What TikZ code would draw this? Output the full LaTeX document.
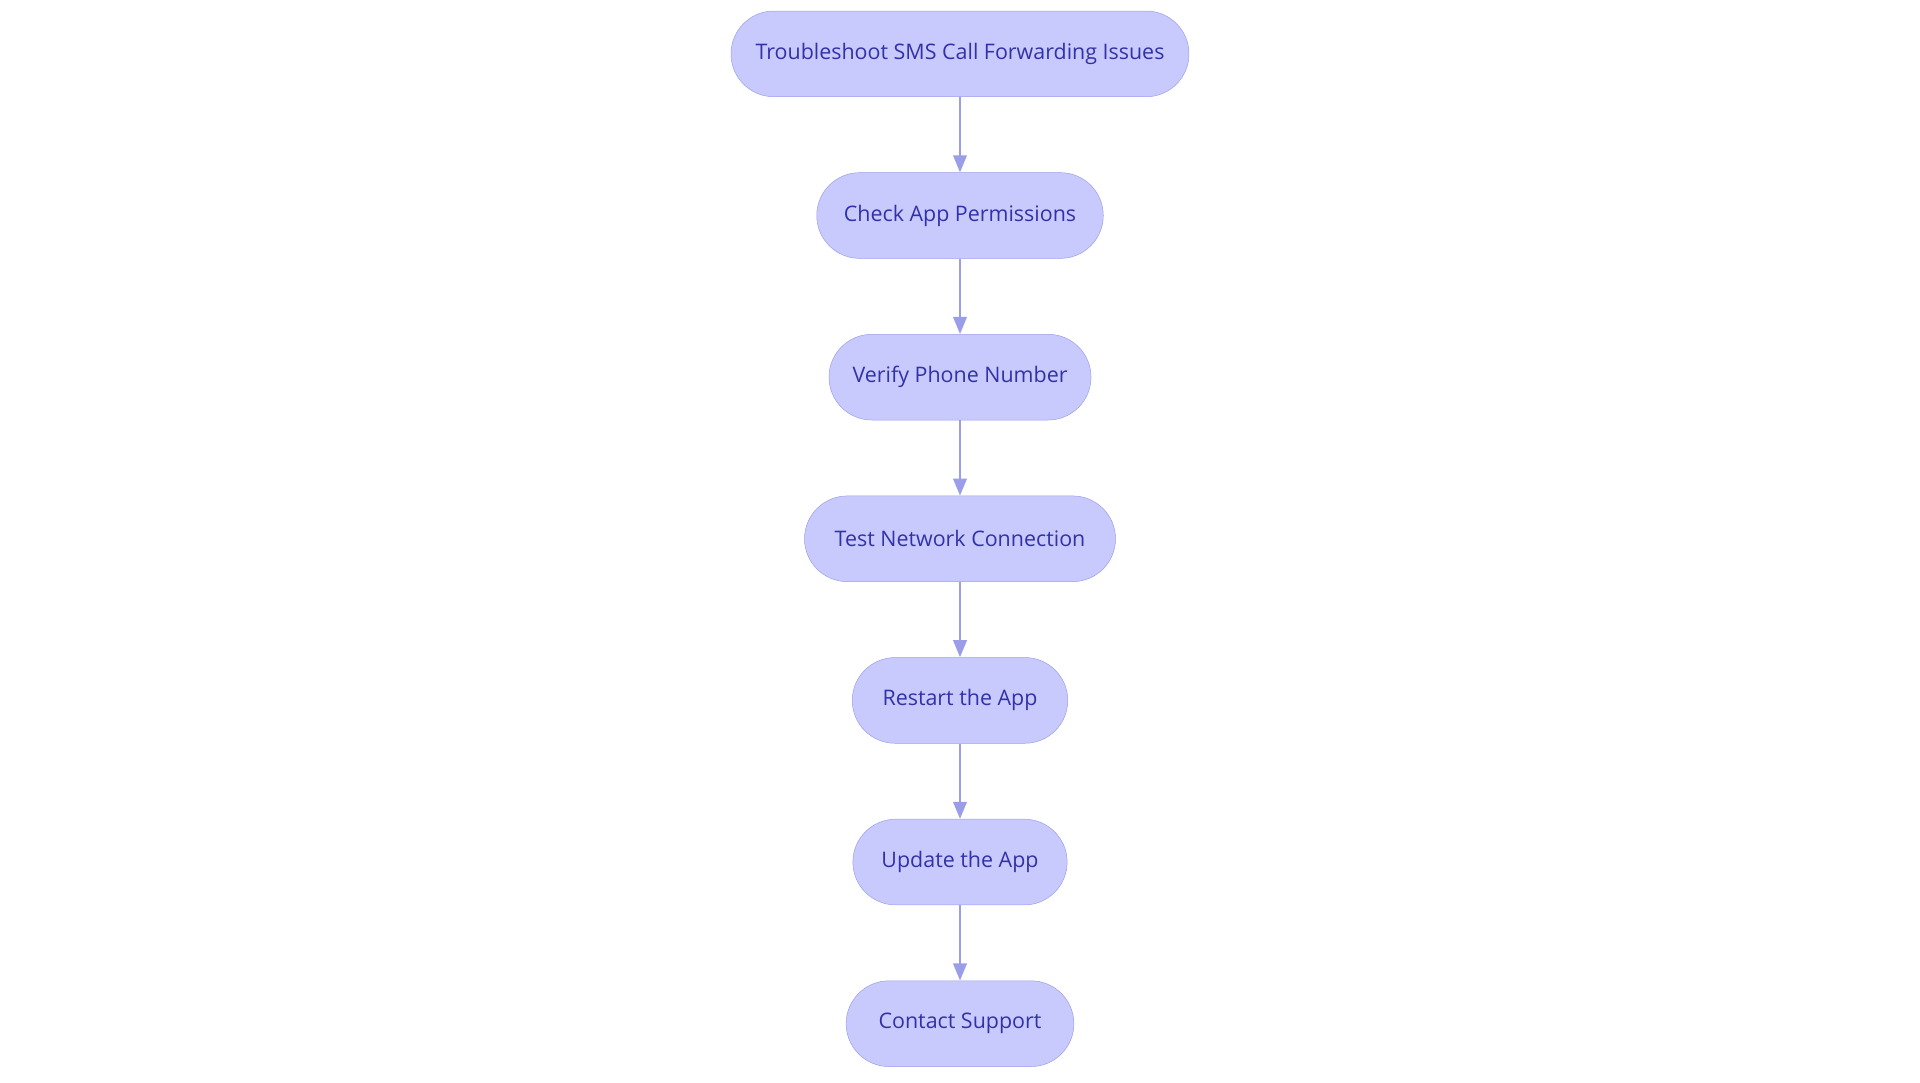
\documentclass[tikz,border=0pt]{standalone}
\usepackage{fontspec}
\setmainfont{Open Sans}
\usetikzlibrary{positioning,arrows.meta}
\definecolor{stepfill}{HTML}{C8CAFE}
\definecolor{stepline}{HTML}{9A9DE8}
\definecolor{steptext}{HTML}{3232A8}
\tikzset{>={Triangle[length=14pt,width=11pt]}}

\begin{document}
\begin{tikzpicture}[x=1pt,y=-1pt,
  stage/.style={draw=stepline,fill=stepfill,text=steptext,rounded corners=35pt,
    minimum height=70pt,inner sep=0pt,font=\fontsize{17.5}{21}\selectfont},
  link/.style={->,draw=stepline,line width=2pt}]
\useasboundingbox (0,0) rectangle (1568,884);
\node[stage,minimum width=374pt] (trouble) at (784,44) {Troubleshoot SMS Call Forwarding Issues};
\node[stage,minimum width=234pt] (perm) at (784,176) {Check App Permissions};
\node[stage,minimum width=214pt] (verify) at (784,308) {Verify Phone Number};
\node[stage,minimum width=254pt] (network) at (784,440) {Test Network Connection};
\node[stage,minimum width=176pt] (restart) at (784,572) {Restart the App};
\node[stage,minimum width=175pt] (update) at (784,704) {Update the App};
\node[stage,minimum width=186pt] (support) at (784,836) {Contact Support};
\draw[link] (trouble) -- (perm);
\draw[link] (perm) -- (verify);
\draw[link] (verify) -- (network);
\draw[link] (network) -- (restart);
\draw[link] (restart) -- (update);
\draw[link] (update) -- (support);
\end{tikzpicture}
\end{document}
